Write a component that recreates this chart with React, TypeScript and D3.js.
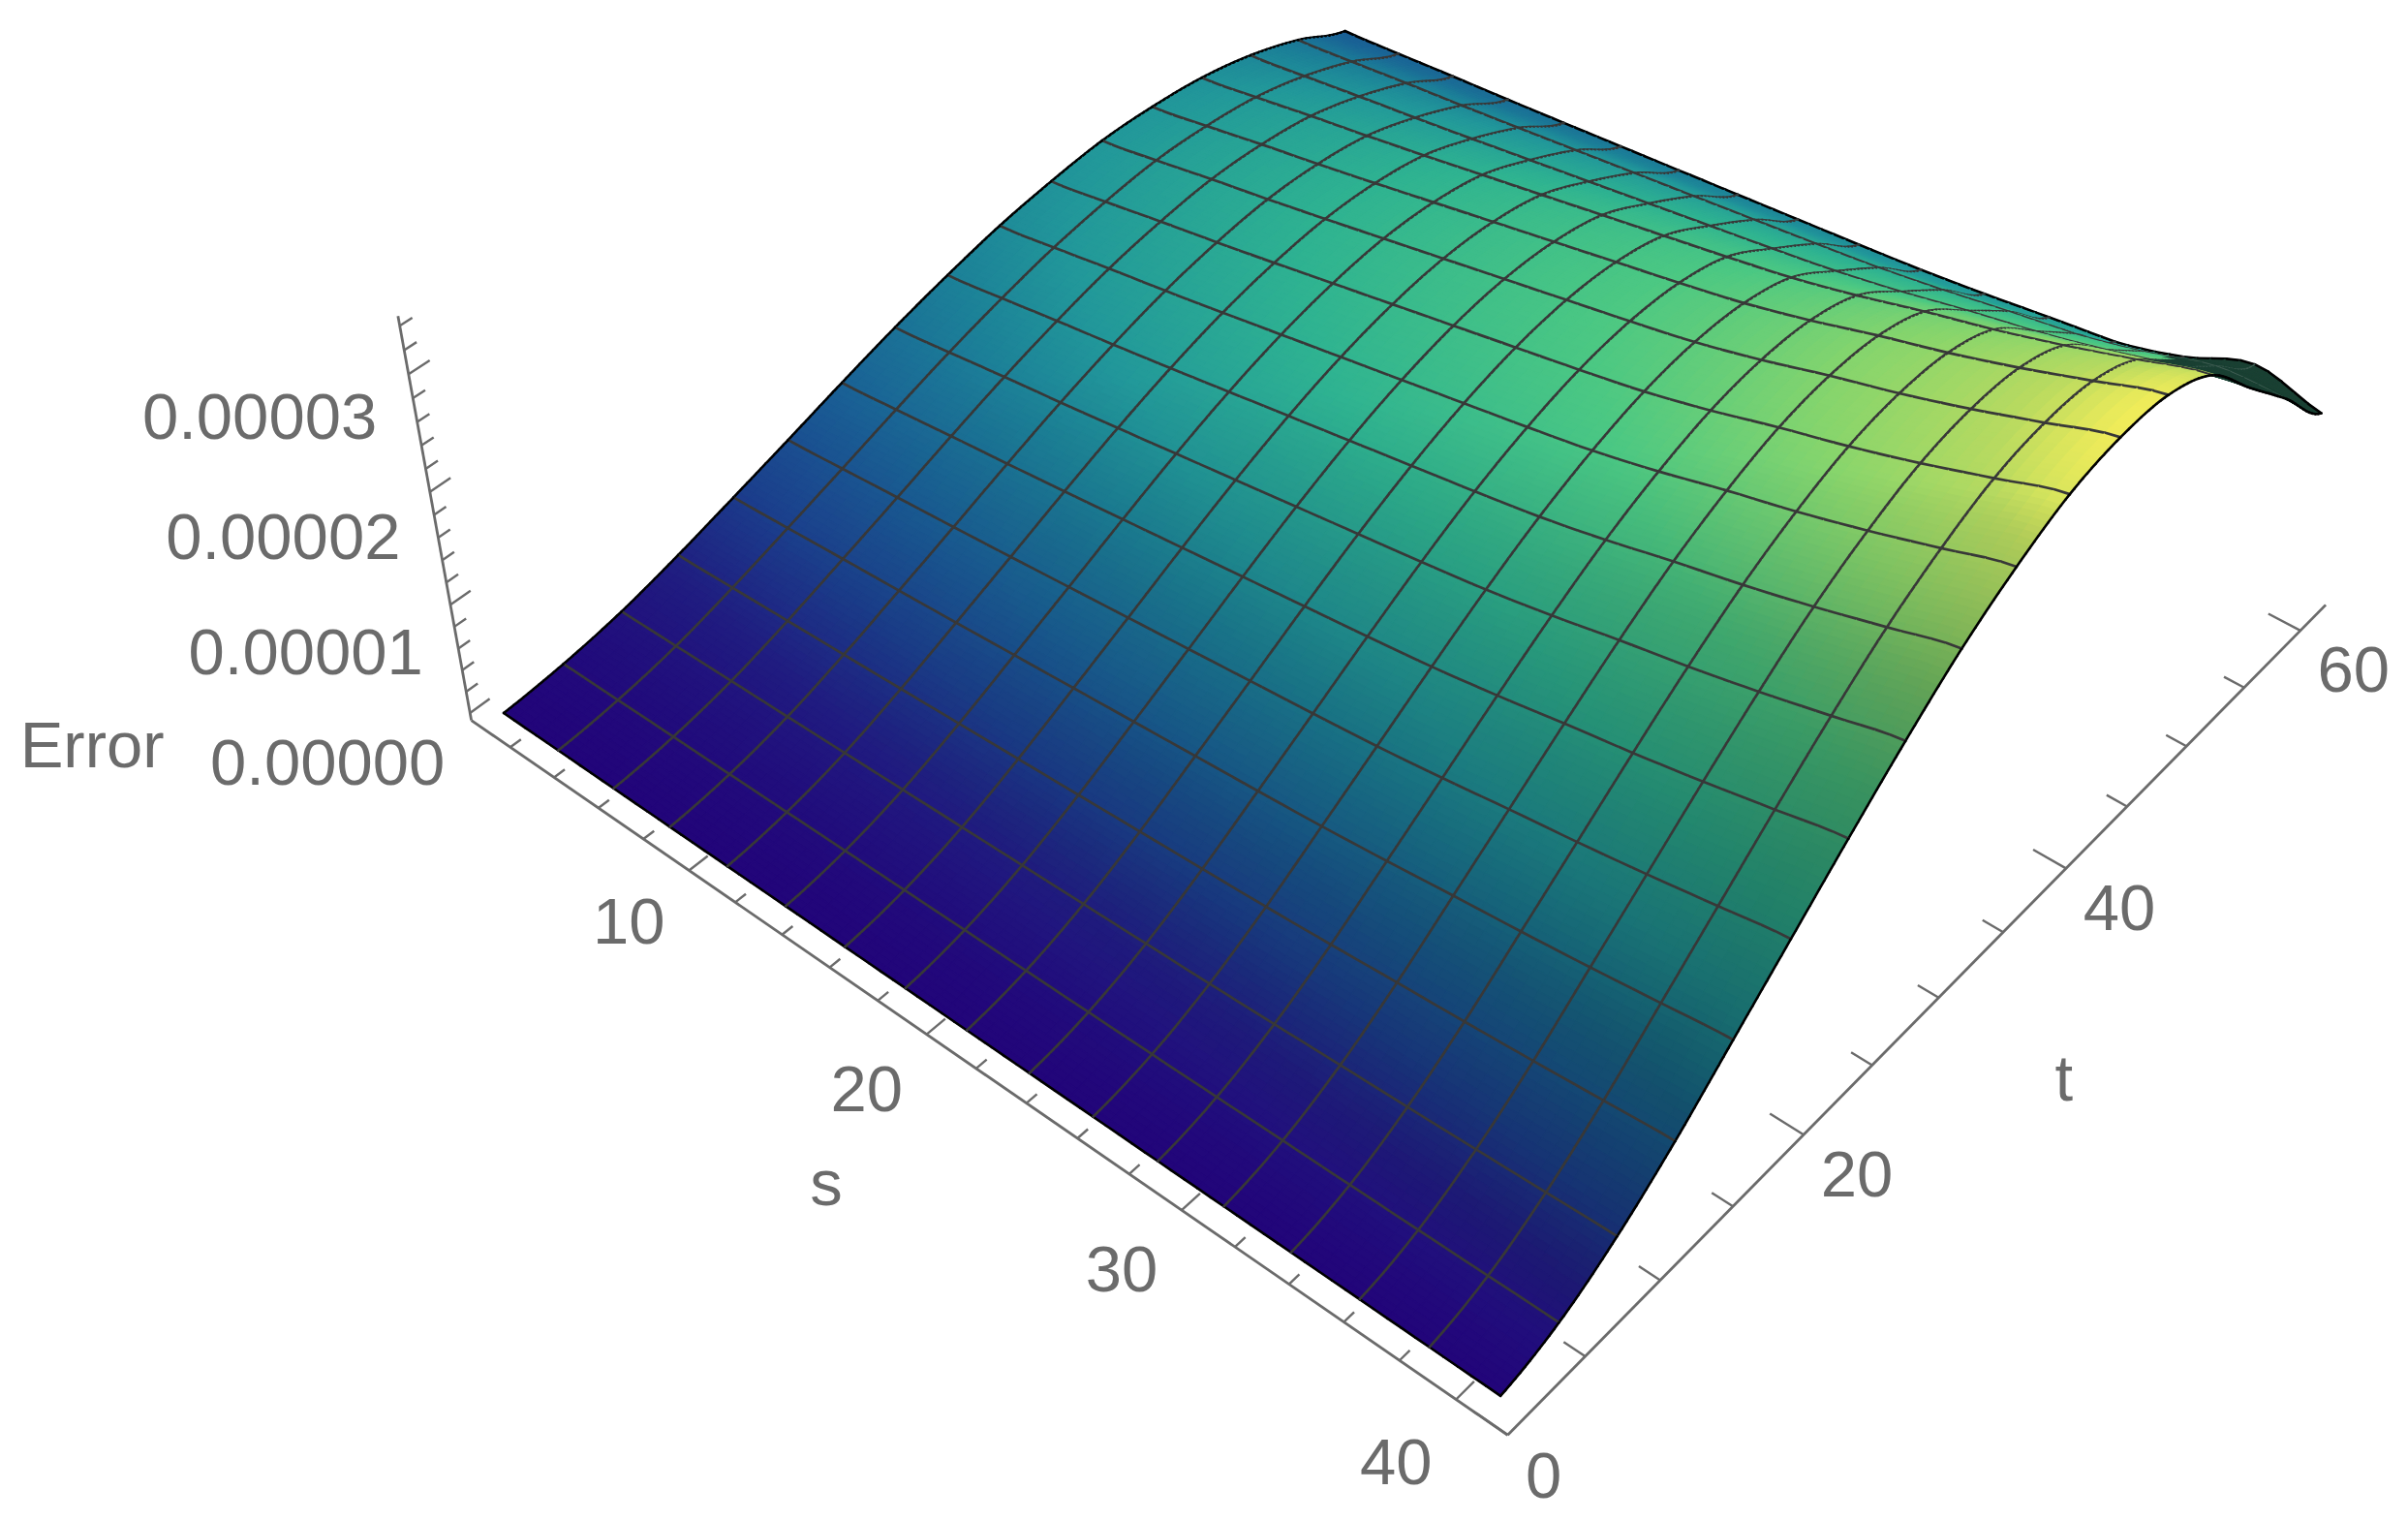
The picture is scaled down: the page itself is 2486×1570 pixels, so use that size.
import React, { useMemo } from 'react';
import * as d3 from 'd3';

// values, error in units of 1e-5
const sMeshStart = 1;
const sMeshStep = 2.5;
const tMeshStart = 1;
const tMeshStep = 3.75;
const errorAtSMin = [0, 0.05, 0.14, 0.275, 0.43, 0.59, 0.755, 0.91, 1.044, 1.157, 1.232, 1.279, 1.269, 1.22, 1.114, 0.946, 0.72];
const errorAtSMax = [0, 0.14, 0.41, 0.77, 1.19, 1.61, 2.03, 2.43, 2.79, 3.07, 3.28, 3.37, 3.35, 3.15, 2.68, 2.22, 1.73];
const blendByS = [0, 0.045, 0.095, 0.142, 0.192, 0.244, 0.296, 0.348, 0.4, 0.452, 0.508, 0.578, 0.658, 0.732, 0.816, 0.909, 1];
// extra height of the far edge where it curls over near the last s values
const farEdgeLift = [0, 0, 0, 0, 0, 0, 0, 0, 0, 0, 0, 0, 0, 0, 0.08, 0.22, 0];

const sTicks = d3.range(2, 41, 2);
const tTicks = d3.range(0, 61, 5);
const zTicks = d3.range(0, 18).map(i => i * 0.2);
const sLabels = [10, 20, 30, 40];
const tLabels = [0, 20, 40, 60];
const zLabels = [0, 1, 2, 3];

const colorStops = [0, 0.07, 0.137, 0.22, 0.31, 0.38, 0.5, 0.65, 0.8, 0.92, 1];
const colorValues = ['#22057a', '#201c80', '#1b3f8c', '#1a6095', '#1c8098', '#22989a', '#2fb391', '#4cc883', '#88d56c', '#b8da60', '#f0ec5a'];

const WIDTH = 2486;
const HEIGHT = 1570;
const SCALE = WIDTH / 1568;
const SUB_S = 5;
const SUB_T = 12; // colour changes fastest along t
const axisColor = '#6b6b6b';
const meshColor = '#383838';
const font = '"Liberation Sans", Arial, sans-serif';

// camera worked out from the tick marks of the three axes
const project = (s: number, t: number, z: number) => {
  const tp = t + 0.2;
  const zp = z + 0.07;
  const w = 1 - 0.0033 * s + 0.00275 * tp - 0.02007 * zp;
  const x = 302 + 12.98 * s + 11.54 * tp - 18.66 * zp;
  const y = 468.6 + 8.1 * s - 6.4 * tp - 78.27 * zp;
  return { x: (x / w) * SCALE, y: (y / w) * SCALE, w };
};

const catmull = (vals: number[], u: number) => {
  const i = Math.min(Math.floor(u), vals.length - 2);
  const f = u - i;
  const p0 = vals[Math.max(i - 1, 0)];
  const p1 = vals[i];
  const p2 = vals[i + 1];
  const p3 = vals[Math.min(i + 2, vals.length - 1)];
  return 0.5 * (2 * p1 + (p2 - p0) * f + (2 * p0 - 5 * p1 + 4 * p2 - p3) * f * f + (3 * p1 - p0 - 3 * p2 + p3) * f * f * f);
};

const errorAt = (u: number, v: number) => {
  const lo = catmull(errorAtSMin, v);
  const hi = catmull(errorAtSMax, v);
  const tail = v > 13 ? Math.pow((v - 13) / 3, 2) : 0;
  return lo + (hi - lo) * catmull(blendByS, u) + tail * Math.max(catmull(farEdgeLift, u), 0);
};

const colorScale = d3.scaleLinear<string>().domain(colorStops).range(colorValues).interpolate(d3.interpolateRgb).clamp(true);
const line = d3.line<{ x: number; y: number }>().x(d => d.x).y(d => d.y);

type Item = { key: number; d: string; fill?: string; stroke: string; width: number };

const buildSurface = () => {
  const ni = 16 * SUB_S;
  const nj = 16 * SUB_T;
  const grid: { x: number; y: number; w: number; z: number }[][] = [];
  for (let i = 0; i <= ni; i++) {
    const row = [];
    for (let j = 0; j <= nj; j++) {
      const u = i / SUB_S;
      const v = j / SUB_T;
      const z = Math.max(errorAt(u, v), 0);
      row.push({ ...project(sMeshStart + u * sMeshStep, tMeshStart + v * tMeshStep, z), z });
    }
    grid.push(row);
  }
  const area = (a: any, b: any, c: any, d: any) =>
    (a.x * b.y - b.x * a.y) + (b.x * c.y - c.x * b.y) + (c.x * d.y - d.x * c.y) + (d.x * a.y - a.x * d.y);
  const frontSign = Math.sign(area(grid[0][0], grid[1][0], grid[1][1], grid[0][1]));
  const maxZ = d3.max(errorAtSMax) as number;

  const items: Item[] = [];
  const quadW: number[][] = [];
  const back: boolean[][] = [];
  for (let i = 0; i < ni; i++) {
    quadW.push([]);
    back.push([]);
    for (let j = 0; j < nj; j++) {
      const a = grid[i][j];
      const b = grid[i + 1][j];
      const c = grid[i + 1][j + 1];
      const e = grid[i][j + 1];
      const u = (i + 0.5) / SUB_S;
      const v = (j + 0.5) / SUB_T;
      // the flap past the ridge at the largest s shows its dark underside
      const flap = v > 13.1 && u > 15 - (v - 13) * 0.3;
      const isBack = flap || Math.sign(area(a, b, c, e)) !== frontSign;
      const key = (a.w + b.w + c.w + e.w) / 4;
      quadW[i].push(key);
      back[i].push(isBack);
      const z = (a.z + b.z + c.z + e.z) / 4;
      const slope = ((c.z + e.z - a.z - b.z) / 2) / (tMeshStep / SUB_T);
      const dim = 1 - 0.28 * Math.min(Math.max((slope - 0.045) / 0.065, 0), 1);
      const col = d3.rgb(colorScale(z / maxZ));
      const fill = isBack ? '#1a4033' : d3.rgb(col.r * dim, col.g * dim, col.b * dim).formatHex();
      items.push({ key, d: line([a, b, c, e])! + 'Z', fill, stroke: fill, width: 1.5 });
    }
  }

  const pushSegment = (p: any, q: any, neighbours: [number, number][], boundary: boolean) => {
    const valid = neighbours.filter(([i, j]) => i >= 0 && j >= 0 && i < ni && j < nj);
    const key = (d3.min(valid, ([i, j]) => quadW[i][j]) as number) - 1e-7;
    const allBack = valid.every(([i, j]) => back[i][j]);
    items.push({
      key,
      d: line([p, q])!,
      stroke: boundary ? '#000000' : allBack ? '#3f5c52' : meshColor,
      width: boundary ? 2.6 : allBack ? 1.4 : 2.7,
    });
  };

  for (let j = 0; j <= nj; j += SUB_T) {
    for (let i = 0; i < ni; i++) {
      pushSegment(grid[i][j], grid[i + 1][j], [[i, j - 1], [i, j]], j === 0 || j === nj);
    }
  }
  for (let i = 0; i <= ni; i += SUB_S) {
    for (let j = 0; j < nj; j++) {
      pushSegment(grid[i][j], grid[i][j + 1], [[i - 1, j], [i, j]], i === 0 || i === ni);
    }
  }
  return items.sort((a, b) => b.key - a.key);
};

// axes stand on the floor of the bounding box
const S_LOW = 0.2;
const S_HIGH = 41.8;
const T_LOW = 0;
const T_HIGH = 62.3;
const Z_FLOOR = -0.07;
const Z_TOP = 3.48;

const App = () => {
  const surface = useMemo(buildSurface, []);

  const axisLines = [
    [project(S_LOW, T_LOW, Z_FLOOR), project(S_HIGH, T_LOW, Z_FLOOR)],
    [project(S_HIGH, T_LOW, Z_FLOOR), project(S_HIGH, T_HIGH, Z_FLOOR)],
    [project(S_LOW, T_LOW, Z_FLOOR), project(S_LOW, T_LOW, Z_TOP)],
  ];
  const tickLines = [
    ...sTicks.map(s => [project(s, T_LOW, Z_FLOOR), project(s, T_LOW + (s % 10 === 0 ? 1.15 : 0.65), Z_FLOOR)]),
    ...tTicks.map(t => [project(S_HIGH, t, Z_FLOOR), project(S_HIGH - (t % 20 === 0 ? 1.2 : 0.75), t, Z_FLOOR)]),
    ...zTicks.map((z, i) => [project(S_LOW, T_LOW, z), project(S_LOW, T_LOW + (i % 5 === 0 ? 1.2 : 0.7), z)]),
  ];
  const textStyle = { fontFamily: font, fontSize: 67, fill: axisColor, dominantBaseline: 'central' } as const;

  return (
    <svg width={WIDTH} height={HEIGHT} style={{ position: 'absolute', left: 0, top: 0, background: '#fff' }}>
      <g fill="none" stroke={axisColor}>
        {axisLines.map((l, i) => <path key={i} d={line(l)!} strokeWidth={2.8} />)}
        {tickLines.map((l, i) => <path key={i} d={line(l)!} strokeWidth={2.4} />)}
      </g>
      <g strokeLinejoin="round" strokeLinecap="round">
        {surface.map((it, i) => (
          <path key={i} d={it.d} fill={it.fill ?? 'none'} stroke={it.stroke} strokeWidth={it.width} />
        ))}
      </g>
      <g {...textStyle}>
        {sLabels.map(s => {
          const p = project(s, T_LOW, Z_FLOOR);
          return <text key={s} x={p.x - 62} y={p.y + 56 + (s - 20) * 0.42} textAnchor="middle">{s}</text>;
        })}
        {tLabels.map(t => {
          const p = project(S_HIGH, t, Z_FLOOR);
          return <text key={t} x={p.x + (t === 0 ? 37 : 55)} y={p.y + (t === 0 ? 41 : 40)} textAnchor="middle">{t}</text>;
        })}
        {zLabels.map(z => {
          const p = project(S_LOW, T_LOW, z);
          return <text key={z} x={p.x - 26 - z * 2.2} y={p.y + 51 - z * 2.7} textAnchor="end">{z === 0 ? '0.00000' : `0.0000${z}`}</text>;
        })}
        <text x={60 * SCALE} y={485 * SCALE} textAnchor="middle">Error</text>
        <text x={538 * SCALE} y={770 * SCALE} textAnchor="middle">s</text>
        <text x={1344 * SCALE} y={702 * SCALE} textAnchor="middle">t</text>
      </g>
    </svg>
  );
};

export default App;
